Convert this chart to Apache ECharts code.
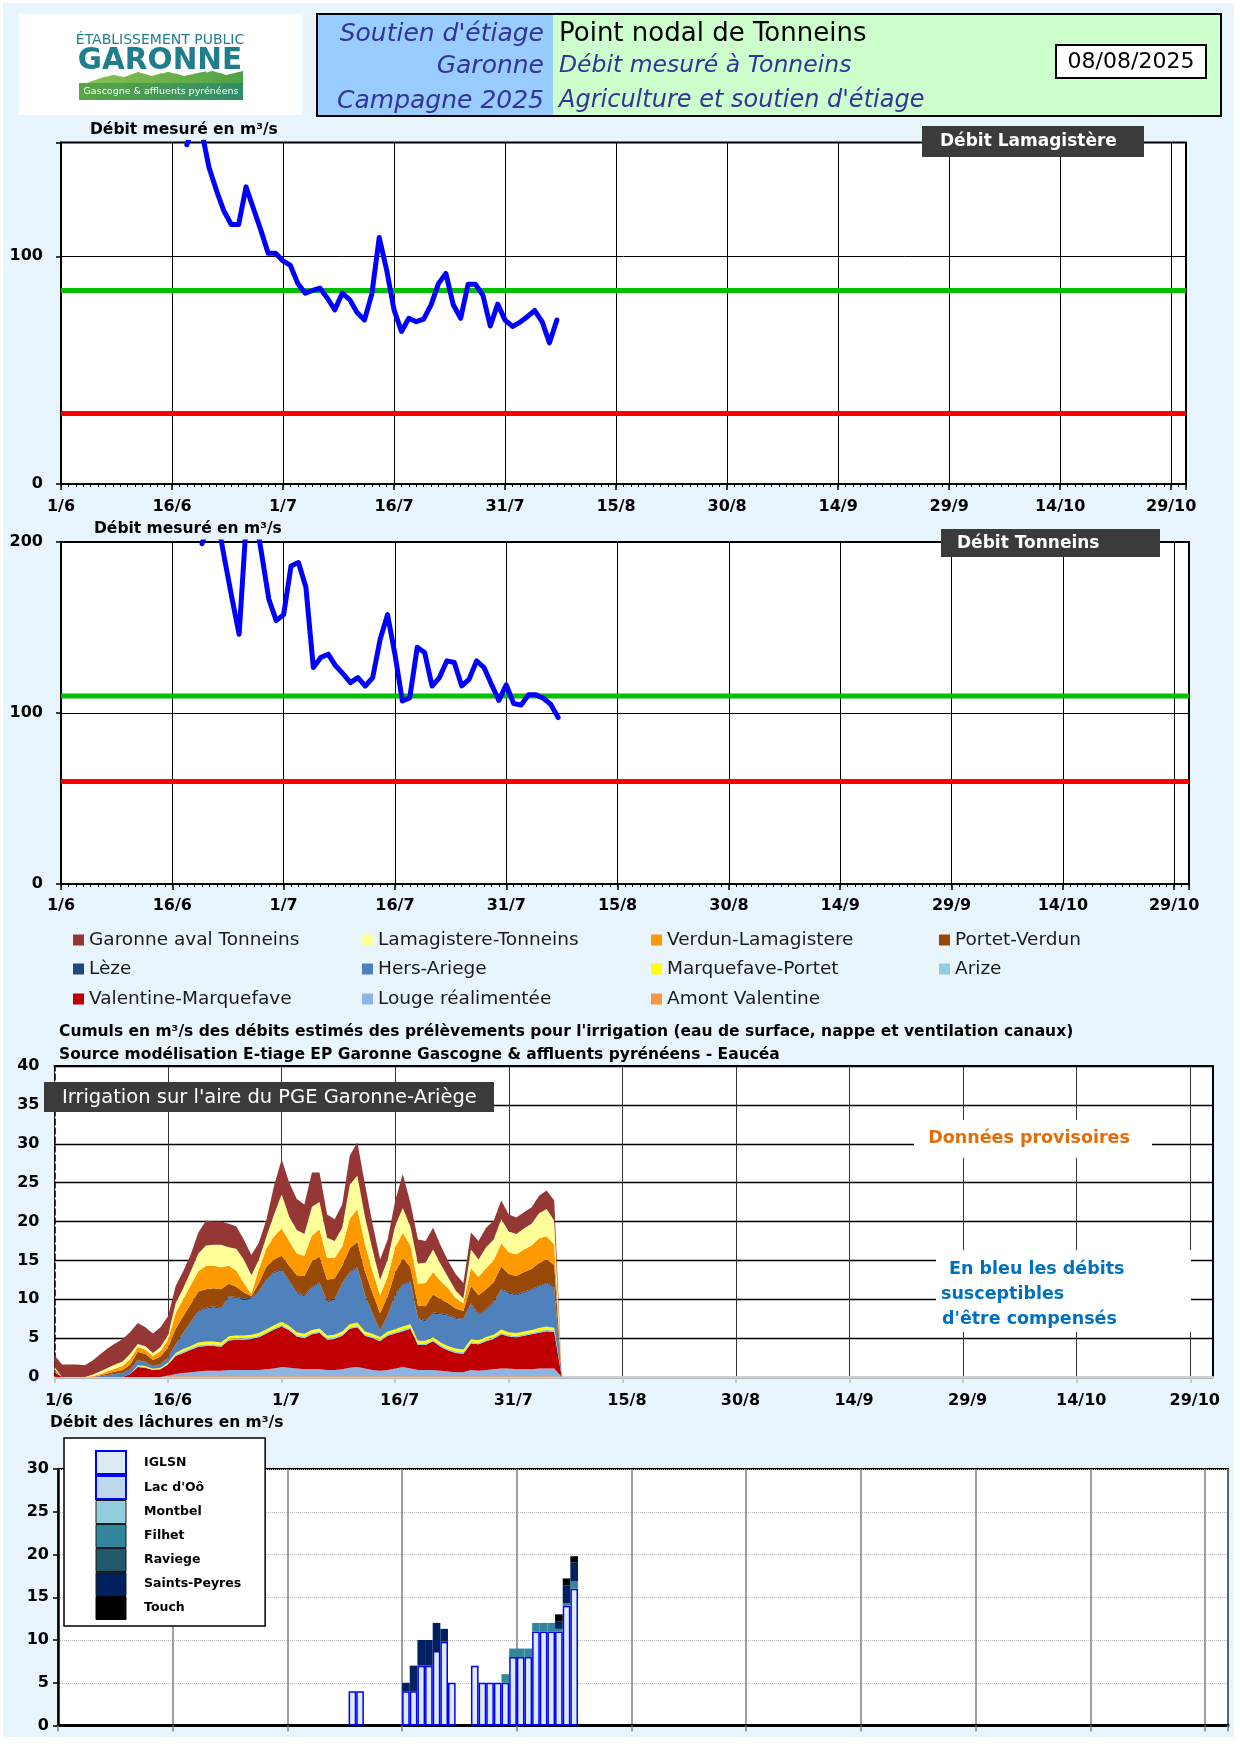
<!DOCTYPE html>
<html><head><meta charset="utf-8">
<script src="https://cdn.jsdelivr.net/npm/echarts/dist/echarts.min.js"></script>
<style>
html,body{margin:0;padding:0;background:#fff;}
#bg{position:absolute;left:3px;top:3px;width:1231px;height:1734px;background:#E9F5FD;}
#chart{position:absolute;left:0;top:0;width:1240px;height:1754px;}
</style></head><body>
<div id="bg"></div><div id="chart"></div>
<script>
const FONT = "'DejaVu Sans', sans-serif";
const tickLabels = ['1/6','16/6','1/7','16/7','31/7','15/8','30/8','14/9','29/9','14/10','29/10'];

// Débit mesuré Lamagistère (jour 17 = 18/6 ...)
const lamagStart = 17;
const lamagistere = [149,158,155,139,129,120,114,114,130.5,121,111.5,101.3,101.3,98,96,88,83.8,85,86,81.6,76.5,83.8,81,75.3,72,83.5,108.3,94,76.5,67,72.8,71.3,72.4,78.7,88,92.5,78.7,72.8,87.7,87.7,83,69.4,79,72,69.2,71,73.5,76.2,71.3,62,72];
const lamagDOE = 85, lamagDCR = 31;

// Débit mesuré Tonneins (jour 19 = 20/6 ...)
const tonneinsStart = 19;
const tonneins = [199,212,215,191,168,146,214,220,194,166.7,154,157.5,186,188,173.5,126.6,132.5,134.4,127.6,123,117.8,120.7,115.8,120.7,143,157.5,134.4,107,109,138.4,135.4,115.8,120.7,130.5,129.5,115.8,119.8,130.5,126.6,116.8,107.4,116.4,105.5,104.7,110.6,110.6,108.6,105,97.3];
const tonneinsDOE = 110, tonneinsDCR = 60;

// Irrigation (jour 0 = 1/6 ... jour 67 = 7/8)
const amontValentine = [0,0,0,0,0,0,0,0,0,0,0,0,0,0,0,0.1,0.1,0.1,0.1,0.1,0.1,0.1,0.1,0.1,0.1,0.1,0.1,0.1,0.1,0.1,0.1,0.1,0.1,0.1,0.1,0.1,0.1,0.1,0.1,0.1,0.1,0.1,0.1,0.1,0.1,0.1,0.1,0.1,0.1,0.1,0.1,0.1,0.1,0.1,0.1,0.1,0.1,0.1,0.1,0.1,0.1,0.1,0.1,0.1,0.1,0.1,0.1,0];
const louge = [0,0,0,0,0,0,0,0,0,0,0,0,0,0,0,0.1,0.3,0.4,0.5,0.6,0.7,0.7,0.7,0.8,0.8,0.8,0.8,0.8,0.9,1.0,1.2,1.1,1.0,0.9,0.9,0.9,0.8,0.8,0.9,1.1,1.2,1.0,0.8,0.7,0.8,1.0,1.2,1.0,0.8,0.8,0.8,0.7,0.6,0.5,0.5,0.8,0.7,0.8,0.9,1.0,1.0,0.9,0.9,0.9,1.0,1.0,1.0,0];
const valentine = [0.6,0,0,0,0,0,0,0,0,0,0.4,1.3,1.2,0.9,1.0,1.4,2.3,2.6,2.9,3.2,3.2,3.2,3.1,3.8,3.9,3.9,4.0,4.2,4.6,5.0,5.2,4.8,4.1,4.0,4.5,4.7,3.9,4.0,4.3,5.0,5.1,4.2,4.1,3.8,4.4,4.5,4.6,5.1,3.2,3.2,3.7,3.1,2.7,2.5,2.4,3.4,3.4,3.7,3.9,4.4,4.1,4.1,4.3,4.5,4.6,4.8,4.7,0];
const arize = [0.05,0,0,0,0,0,0,0,0,0,0,0.1,0.1,0.05,0.1,0.1,0.15,0.2,0.2,0.2,0.2,0.2,0.2,0.2,0.2,0.2,0.2,0.2,0.2,0.2,0.2,0.2,0.2,0.2,0.2,0.2,0.2,0.2,0.2,0.2,0.2,0.2,0.2,0.2,0.2,0.2,0.2,0.2,0.2,0.2,0.2,0.2,0.2,0.2,0.2,0.2,0.2,0.2,0.2,0.2,0.2,0.2,0.2,0.2,0.2,0.2,0.2,0];
const marquefave = [0.05,0,0,0,0,0,0,0,0,0,0,0.1,0.1,0.1,0.1,0.15,0.25,0.3,0.3,0.35,0.35,0.35,0.35,0.35,0.35,0.35,0.35,0.35,0.35,0.35,0.4,0.35,0.35,0.35,0.35,0.35,0.35,0.35,0.35,0.4,0.4,0.35,0.35,0.35,0.35,0.35,0.4,0.4,0.35,0.35,0.35,0.35,0.35,0.35,0.35,0.35,0.35,0.35,0.35,0.4,0.35,0.35,0.35,0.35,0.4,0.4,0.35,0];
const hersAriege = [0.1,0,0,0,0,0,0.1,0.25,0.4,0.5,0.6,0.6,0.5,0.3,0.4,0.6,1.0,2.0,3.0,3.9,4.2,4.4,4.3,5.0,4.8,4.6,4.6,5.3,6.3,6.7,6.6,5.7,5.0,4.8,5.4,5.8,4.2,4.5,6.1,6.6,7.0,4.6,2.5,0.7,2.0,4.3,5.3,5.4,2.8,2.5,3.0,3.6,3.9,3.8,3.8,4.5,3.2,3.4,4.1,5.05,5.0,4.8,5.0,5.1,5.3,5.45,5.1,0];
const leze = [0,0,0,0,0,0,0,0,0,0,0,0.05,0.05,0.05,0.05,0.05,0.1,0.1,0.1,0.15,0.15,0.15,0.15,0.15,0.15,0.15,0.15,0.15,0.15,0.15,0.15,0.15,0.15,0.15,0.15,0.15,0.15,0.15,0.15,0.15,0.15,0.15,0.15,0.15,0.15,0.15,0.15,0.15,0.15,0.15,0.15,0.15,0.15,0.15,0.15,0.15,0.15,0.15,0.15,0.15,0.15,0.15,0.15,0.15,0.15,0.15,0.15,0];
const portetVerdun = [0.1,0,0,0,0,0,0.1,0.2,0.3,0.4,0.6,1.1,1.0,0.8,1.0,1.3,2.0,2.1,2.3,2.5,2.4,2.3,2.4,1.6,1.3,0.8,0.2,1.0,1.6,1.6,1.75,1.9,2.2,2.5,3.3,3.3,2.8,2.6,2.2,3.0,3.2,3.0,2.6,2.2,2.4,2.9,3.3,1.8,1.6,1.8,2.3,1.8,1.5,1.2,1.0,2.2,2.4,2.6,2.5,2.9,2.3,2.4,2.5,2.6,2.9,3.0,2.8,0];
const verdunLamag = [0.2,0,0,0,0,0.1,0.2,0.3,0.4,0.5,0.7,0.6,0.6,0.5,0.7,1.0,2.0,2.2,2.4,2.6,3.0,2.9,2.8,2.3,2.1,1.2,0.3,1.8,2.4,3.0,3.5,3.2,2.8,2.6,3.3,3.5,2.8,2.6,2.5,3.8,4.25,3.5,2.8,2.3,2.5,3.2,3.3,2.8,2.8,3.0,2.9,2.3,1.9,1.3,1.0,2.3,2.4,2.7,2.8,3.0,2.8,2.8,2.9,3.0,3.2,3.0,2.6,0];
const lamagTonneins = [0.2,0,0,0,0,0.2,0.3,0.4,0.5,0.6,0.7,0.4,0.4,0.4,0.5,0.6,1.3,1.4,1.8,2.3,2.6,2.7,2.9,2.4,2.8,3.0,2.4,1.2,1.5,2.8,4.4,3.1,3.0,2.8,3.7,3.5,2.6,2.2,2.4,4.4,4.3,3.5,2.8,2.0,2.2,2.8,3.2,2.4,2.6,2.6,2.9,2.2,1.4,1.0,0.6,2.4,2.2,2.7,2.7,3.1,2.7,2.6,2.7,2.8,3.2,3.5,3.1,0];
const garonneAval = [1.5,1.6,1.6,1.6,1.5,1.8,2.2,2.5,2.7,2.9,2.8,2.7,2.45,2.5,2.55,2.4,2.2,2.2,2.2,2.7,3.2,3.0,3.0,3.0,2.9,2.6,2.6,2.2,2.2,3.7,4.5,4.4,4.0,3.8,4.4,3.8,3.0,2.8,3.0,3.75,4.3,4.2,3.3,2.6,2.6,3.2,4.35,3.05,3.1,2.8,2.8,2.4,2.1,2.1,2.0,2.2,2.4,2.5,2.4,2.4,2.2,2.1,2.1,2.1,2.25,2.4,2.6,0];

// Lâchures (jour 38 = 9/7 ... jour 67 = 7/8)
const lacheStart = 38;
const iglsn = [4,4,null,null,null,null,null,4,4,7,7,8.7,9.8,5,null,null,7,5,5,5,5,8,8,8,11,11,11,11,14,16];
const lacOo = [];
const montbel = [];
const filhet = [null,null,null,null,null,null,null,null,null,null,null,null,null,null,null,null,null,null,null,null,1,1,1,1,1,1,1,0.3,0.3,0.9];
const raviege = [];
const saintsPeyres = [null,null,null,null,null,null,null,1,3,3,3,3.3,1.5,null,null,null,null,null,null,null,null,null,null,null,null,null,null,0.9,2.1,2.2];
const touch = [null,null,null,null,null,null,null,null,null,null,null,null,null,null,null,null,null,null,null,null,null,null,null,null,null,null,null,0.8,0.8,0.7];

const fmtDay = v => (v % 15 === 0 && v / 15 < tickLabels.length) ? tickLabels[v / 15] : '';
const fmtIdx = (v, i) => (i % 15 === 0 && i / 15 < tickLabels.length) ? tickLabels[i / 15] : '';
const pairs = (arr, start) => arr.map((v, i) => [start + i, v]);
const nDays = 153;
const dayCats = Array.from({length: nDays}, (_, i) => String(i));
const dayPts = Array.from({length: nDays + 1}, (_, i) => String(i));
const onDays = arr => dayCats.map((_, i) => (i >= lacheStart && i - lacheStart < arr.length) ? arr[i - lacheStart] : null);

const lblStyle = {color:'#000', fontFamily:FONT, fontWeight:'bold', fontSize:16};

function mainX(grid, max, margin) {
  return {gridIndex:grid, type:'value', min:0, max:max, interval:15,
    axisLine:{show:true, onZero:false, lineStyle:{color:'#000', width:2}},
    axisTick:{show:true, length:6, lineStyle:{color:'#000', width:1.5}},
    axisLabel:Object.assign({formatter:fmtDay, margin:margin}, lblStyle),
    splitLine:{show:true, lineStyle:{color:'#000', width:1}}};
}
function minorX(grid, max) {
  return {gridIndex:grid, type:'value', position:'bottom', min:0, max:max, interval:1,
    axisLine:{show:false, onZero:false}, axisTick:{show:true, length:3, lineStyle:{color:'#000', width:1}},
    axisLabel:{show:false}, splitLine:{show:false}};
}

const irrSeries = [
  ['Amont Valentine', amontValentine, '#F79646'],
  ['Louge réalimentée', louge, '#8EB4E3'],
  ['Valentine-Marquefave', valentine, '#C00000'],
  ['Arize', arize, '#93CDDD'],
  ['Marquefave-Portet', marquefave, '#FFFF00'],
  ['Hers-Ariege', hersAriege, '#4F81BD'],
  ['Lèze', leze, '#1F497D'],
  ['Portet-Verdun', portetVerdun, '#984807'],
  ['Verdun-Lamagistere', verdunLamag, '#FF9900'],
  ['Lamagistere-Tonneins', lamagTonneins, '#FFFF99'],
  ['Garonne aval Tonneins', garonneAval, '#953735']
];
const legendRows = [
  ['Garonne aval Tonneins','Lamagistere-Tonneins','Verdun-Lamagistere','Portet-Verdun'],
  ['Lèze','Hers-Ariege','Marquefave-Portet','Arize'],
  ['Valentine-Marquefave','Louge réalimentée','Amont Valentine']
];
const legendCols = [73, 362, 651, 939];
const legendRowY = [940, 969, 999];

const lacheSeries = [
  ['IGLSN', iglsn, '#DDEBF7', '#0000FF'],
  ["Lac d'Oô", lacOo, '#BDD7EE', '#0000FF'],
  ['Montbel', montbel, '#92CDDC', '#1a1a1a'],
  ['Filhet', filhet, '#31859C', '#1a1a1a'],
  ['Raviege', raviege, '#215968', '#1a1a1a'],
  ['Saints-Peyres', saintsPeyres, '#002060', '#1a1a1a'],
  ['Touch', touch, '#000000', '#000000']
];

const legends = [];
legendRows.forEach((row, r) => row.forEach((name, c) => {
  legends.push({left:legendCols[c], top:legendRowY[r] - 11, padding:0, itemWidth:11, itemHeight:11,
    icon:'rect', selectedMode:false,
    textStyle:{fontFamily:FONT, fontSize:18.5, color:'#1a1a1a', lineHeight:22}, data:[name]});
}));
legends.push({orient:'vertical', left:64, top:1438, padding:[12,24,6,31], itemWidth:30, itemHeight:23, itemGap:0,
  icon:'rect', selectedMode:false, backgroundColor:'#fff', borderColor:'#000', borderWidth:1.5,
  formatter: n => '   ' + n,
  textStyle:{fontFamily:FONT, fontSize:12.5, fontWeight:'bold', color:'#000', lineHeight:16},
  data: lacheSeries.map(s => ({name:s[0], itemStyle:{color:s[2], borderColor:s[3], borderWidth:(s[3]==='#0000FF'?2:1)}}))});

const series = [];
// Chart 1
series.push({type:'line', xAxisIndex:0, yAxisIndex:0, data:[[0,lamagDCR],[152,lamagDCR]], symbol:'none', lineStyle:{color:'#FF0000', width:5}, z:3, silent:true});
series.push({type:'line', xAxisIndex:0, yAxisIndex:0, data:[[0,lamagDOE],[152,lamagDOE]], symbol:'none', lineStyle:{color:'#00C000', width:5}, z:3, silent:true});
series.push({type:'line', xAxisIndex:0, yAxisIndex:0, data:pairs(lamagistere, lamagStart), symbol:'none', lineStyle:{color:'#0000FF', width:5, join:'round', cap:'round'}, z:4, silent:true});
// Chart 2
series.push({type:'line', xAxisIndex:2, yAxisIndex:1, data:[[0,tonneinsDCR],[152,tonneinsDCR]], symbol:'none', lineStyle:{color:'#FF0000', width:5}, z:3, silent:true});
series.push({type:'line', xAxisIndex:2, yAxisIndex:1, data:[[0,tonneinsDOE],[152,tonneinsDOE]], symbol:'none', lineStyle:{color:'#00C000', width:5}, z:3, silent:true});
series.push({type:'line', xAxisIndex:2, yAxisIndex:1, data:pairs(tonneins, tonneinsStart), symbol:'none', lineStyle:{color:'#0000FF', width:5, join:'round', cap:'round'}, z:4, silent:true});
// Chart 3 (stacked areas on a day category axis)
irrSeries.forEach(s => series.push({name:s[0], type:'line', xAxisIndex:4, yAxisIndex:2, stack:'irr', symbol:'none', showSymbol:false,
  color:s[2], itemStyle:{color:s[2]}, lineStyle:{width:0, color:s[2]}, areaStyle:{color:s[2], opacity:1},
  data:s[1].slice(), z:2, silent:true}));
// Chart 4
lacheSeries.forEach((s, i) => series.push({name:s[0], type:'bar', xAxisIndex:5, yAxisIndex:3, stack:'lache', barCategoryGap:'0%',
  itemStyle:{color:s[2], borderColor:(s[3]==='#0000FF'?'#0000FF':s[2]), borderWidth:(s[3]==='#0000FF'?1.5:0)},
  data:onDays(s[1]), z:2, silent:true}));

const txt = (text, x, y, font, fill, align, extra) => Object.assign({type:'text', z:50,
  style:{text:text, x:x, y:y, font:font, fill:fill, textAlign:align||'left', textVerticalAlign:'middle'}}, extra||{});

const graphic = [
  {type:'rect', z:1, shape:{x:19,y:14,width:283,height:101}, style:{fill:'#fff'}},
  txt('ÉTABLISSEMENT PUBLIC', 160, 40, "14px 'DejaVu Sans'", '#1F7D8C', 'center'),
  txt('GARONNE', 160, 61, "bold 29.5px 'DejaVu Sans'", '#1F7D8C', 'center'),
  {type:'polygon', z:2, shape:{points:[[79,86],[92,81],[104,77],[114,74],[124,77],[138,72],[152,76],[168,71],[184,76],[198,73],[212,70],[226,75],[243,71],[243,86]]},
    style:{fill:{type:'linear',x:0,y:0,x2:1,y2:0,colorStops:[{offset:0,color:'#8CC152'},{offset:1,color:'#4FA245'}]}}},
  {type:'polyline', z:3, shape:{points:[[106,76],[114,74],[121,76]]}, style:{stroke:'#fff', lineWidth:1.5, fill:null}},
  {type:'polyline', z:3, shape:{points:[[162,73],[168,71],[175,73]]}, style:{stroke:'#fff', lineWidth:1.5, fill:null}},
  {type:'polyline', z:3, shape:{points:[[206,72],[212,70],[219,72]]}, style:{stroke:'#fff', lineWidth:1.5, fill:null}},
  {type:'rect', z:3, shape:{x:79,y:83,width:164,height:17}, style:{fill:{type:'linear',x:0,y:0,x2:1,y2:0,colorStops:[{offset:0,color:'#5AA545'},{offset:1,color:'#2F8C6A'}]}}},
  txt('Gascogne & affluents pyrénéens', 161, 91.5, "9.5px 'DejaVu Sans'", '#fff', 'center'),

  {type:'rect', z:1, shape:{x:317,y:14,width:904,height:102}, style:{fill:'#CCFFCC', stroke:'#000', lineWidth:2}},
  {type:'rect', z:2, shape:{x:318,y:15,width:235,height:100}, style:{fill:'#99CCFF'}},
  txt("Soutien d'étiage", 544, 34, "italic 25px 'DejaVu Sans'", '#333399', 'right'),
  txt('Garonne', 544, 66, "italic 25px 'DejaVu Sans'", '#333399', 'right'),
  txt('Campagne 2025', 544, 101, "italic 25px 'DejaVu Sans'", '#333399', 'right'),
  txt('Point nodal de Tonneins', 559, 34, "26px 'DejaVu Sans'", '#000', 'left'),
  txt('Débit mesuré à Tonneins', 559, 66, "italic 23.5px 'DejaVu Sans'", '#333399', 'left'),
  txt("Agriculture et soutien d'étiage", 559, 101, "italic 24px 'DejaVu Sans'", '#333399', 'left'),
  {type:'rect', z:3, shape:{x:1056,y:45,width:150,height:33}, style:{fill:'#fff', stroke:'#000', lineWidth:2}},
  txt('08/08/2025', 1131, 62, "22px 'DejaVu Sans'", '#000', 'center'),

  txt('Débit mesuré en m³/s', 90, 130, "bold 15.5px 'DejaVu Sans'", '#000', 'left'),
  {type:'rect', z:40, shape:{x:922,y:126,width:222,height:31}, style:{fill:'#3B3B3B'}},
  txt('Débit Lamagistère', 940, 142, "bold 17px 'DejaVu Sans'", '#fff', 'left'),

  txt('Débit mesuré en m³/s', 94, 529, "bold 15.5px 'DejaVu Sans'", '#000', 'left'),
  {type:'rect', z:40, shape:{x:941,y:529,width:219,height:28}, style:{fill:'#3B3B3B'}},
  txt('Débit Tonneins', 957, 543.5, "bold 17px 'DejaVu Sans'", '#fff', 'left'),

  txt("Cumuls en m³/s des débits estimés des prélèvements pour l'irrigation (eau de surface, nappe et ventilation canaux)", 59, 1032, "bold 15.5px 'DejaVu Sans'", '#000', 'left'),
  txt('Source modélisation E-tiage EP Garonne Gascogne & affluents pyrénéens - Eaucéa', 59, 1055, "bold 15.5px 'DejaVu Sans'", '#000', 'left'),
  {type:'rect', z:40, shape:{x:44,y:1082,width:450,height:30}, style:{fill:'#3B3B3B'}},
  txt("Irrigation sur l'aire du PGE Garonne-Ariège", 62, 1097.5, "19.5px 'DejaVu Sans'", '#fff', 'left'),
  {type:'rect', z:40, shape:{x:914,y:1120,width:238,height:38}, style:{fill:'#fff'}},
  txt('Données provisoires', 1029, 1138, "bold 17.5px 'DejaVu Sans'", '#E46C0A', 'center'),
  {type:'rect', z:40, shape:{x:936,y:1250,width:255,height:82}, style:{fill:'#fff'}},
  txt('En bleu les débits', 949, 1269, "bold 17.5px 'DejaVu Sans'", '#0070C0', 'left'),
  txt('susceptibles', 941, 1294, "bold 17.5px 'DejaVu Sans'", '#0070C0', 'left'),
  txt("d'être compensés", 942, 1319, "bold 17.5px 'DejaVu Sans'", '#0070C0', 'left'),

  txt('Débit des lâchures en m³/s', 50, 1423, "bold 15.5px 'DejaVu Sans'", '#000', 'left')
];

const gridBase = {show:true, backgroundColor:'#fff', borderColor:'#000', borderWidth:2, containLabel:false, outerBoundsMode:'none'};
const option = {
  animation:false,
  backgroundColor:'transparent',
  textStyle:{fontFamily:FONT},
  grid:[
    Object.assign({left:61, top:142.5, width:1125, height:341.5}, gridBase),
    Object.assign({left:61, top:542, width:1128, height:342}, gridBase),
    Object.assign({left:54.5, top:1066, width:1158.5, height:311}, gridBase, {borderWidth:0}),
    Object.assign({left:58, top:1469, width:1170, height:256.5}, gridBase)
  ],
  xAxis:[
    mainX(0, 152, 15),
    minorX(0, 152),
    mainX(1, 152, 14),
    minorX(1, 152),
    {gridIndex:2, type:'category', data:dayPts, boundaryGap:false,
      axisLine:{show:true, onZero:false, lineStyle:{color:'#D0D0D0', width:2}},
      axisTick:{show:true, interval:14, length:6, lineStyle:{color:'#C8C8C8', width:2}},
      axisLabel:Object.assign({formatter:fmtIdx, interval:14, margin:16, padding:[0,0,0,9]}, lblStyle),
      splitLine:{show:true, interval:14, lineStyle:{color:'#333', width:1}}},
    {gridIndex:3, type:'category', data:dayCats, boundaryGap:true,
      axisLine:{show:true, onZero:false, lineStyle:{color:'#000', width:3}},
      axisTick:{show:true, interval:14, length:6, lineStyle:{color:'#808080', width:1.5}},
      axisLabel:{show:false},
      splitLine:{show:true, interval:14, lineStyle:{color:'#808080', width:1.5}}},
    {gridIndex:2, type:'value', position:'top', min:0, max:153,
      axisLine:{show:true, onZero:false, lineStyle:{color:'#000', width:2}},
      axisTick:{show:false}, axisLabel:{show:false}, splitLine:{show:false}}
  ],
  yAxis:[
    {gridIndex:0, type:'value', min:0, max:150, interval:100,
      axisLine:{show:true, lineStyle:{color:'#000', width:2}},
      axisTick:{show:true, length:5, lineStyle:{color:'#000', width:1.5}},
      axisLabel:Object.assign({margin:18, formatter: v => (v % 100 === 0 ? String(v) : '')}, lblStyle),
      splitLine:{show:true, lineStyle:{color:'#000', width:1}}},
    {gridIndex:1, type:'value', min:0, max:200, interval:100,
      axisLine:{show:true, lineStyle:{color:'#000', width:2}},
      axisTick:{show:true, length:5, lineStyle:{color:'#000', width:1.5}},
      axisLabel:Object.assign({margin:18}, lblStyle),
      splitLine:{show:true, lineStyle:{color:'#000', width:1}}},
    {gridIndex:2, type:'value', min:0, max:40, interval:5,
      axisLine:{show:true, lineStyle:{color:'#000', width:1.5, type:'dashed'}},
      axisTick:{show:false},
      axisLabel:Object.assign({margin:15}, lblStyle),
      splitLine:{show:true, lineStyle:{color:'#000', width:1.3}}},
    {gridIndex:3, type:'value', min:0, max:30, interval:5,
      axisLine:{show:true, lineStyle:{color:'#000', width:2.5}},
      axisTick:{show:true, length:5, lineStyle:{color:'#000', width:1.5}},
      axisLabel:Object.assign({margin:9}, lblStyle),
      splitLine:{show:true, lineStyle:{color:'#BFBFBF', width:1, type:'dotted'}}},
    {gridIndex:2, type:'value', position:'right', min:0, max:40,
      axisLine:{show:true, lineStyle:{color:'#000', width:2}},
      axisTick:{show:false}, axisLabel:{show:false}, splitLine:{show:false}}
  ],
  legend:legends,
  series:series,
  graphic:graphic
};
const chart = echarts.init(document.getElementById('chart'), null, {renderer:'canvas'});
chart.setOption(option);
</script></body></html>
